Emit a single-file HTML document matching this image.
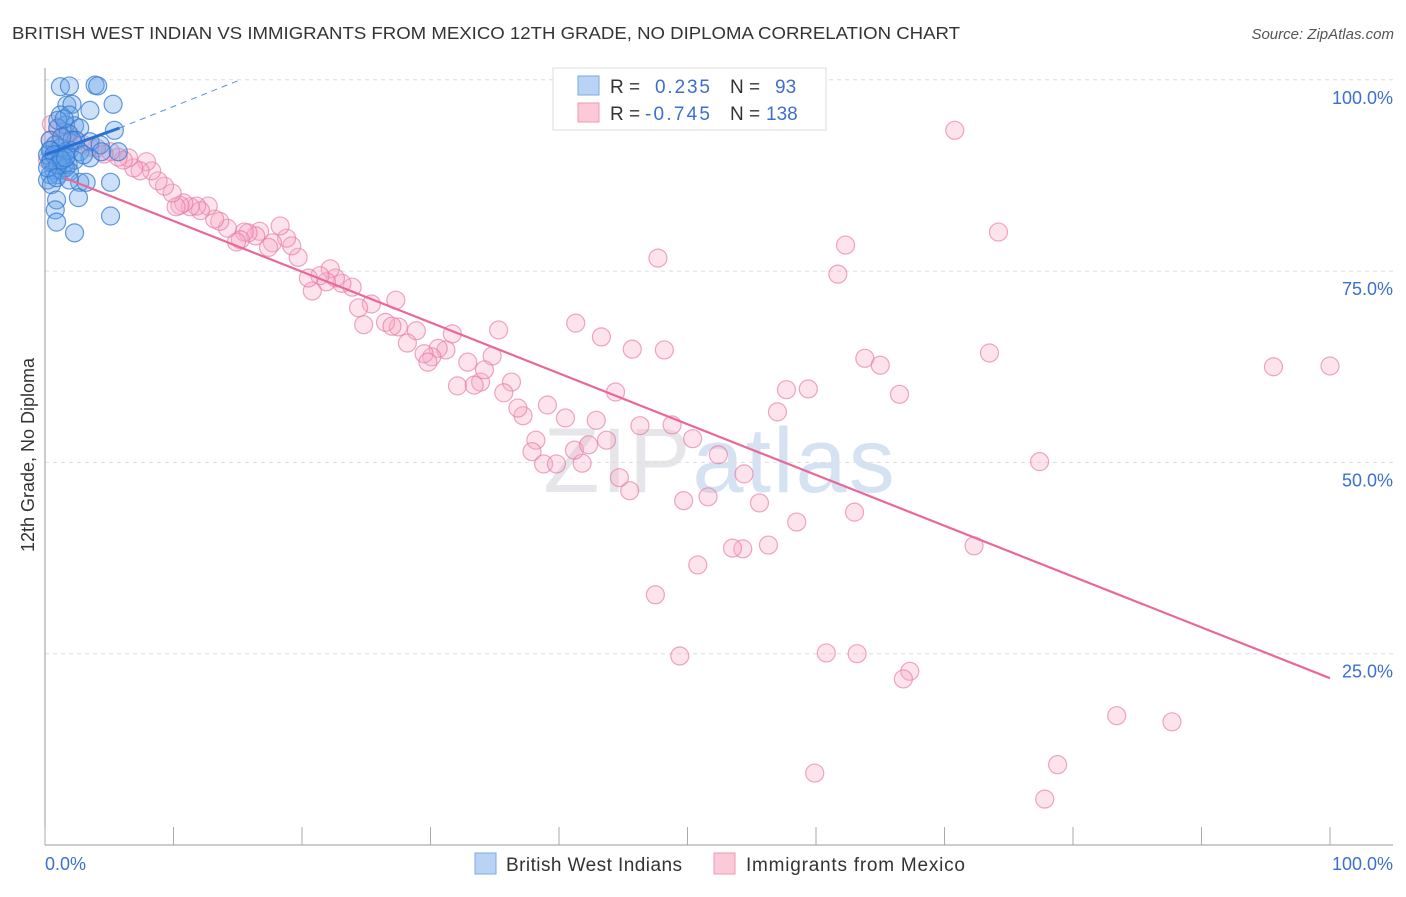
<!DOCTYPE html>
<html><head><meta charset="utf-8"><style>
body{margin:0;background:#fff;font-family:"Liberation Sans",sans-serif;}
svg text{font-family:"Liberation Sans",sans-serif;}
</style></head><body>
<svg id="chart" width="1406" height="892" xmlns="http://www.w3.org/2000/svg">
<text x="12" y="39" font-size="17.5" fill="#333" textLength="948" lengthAdjust="spacingAndGlyphs">BRITISH WEST INDIAN VS IMMIGRANTS FROM MEXICO 12TH GRADE, NO DIPLOMA CORRELATION CHART</text>
<text x="1394" y="39" font-size="15" fill="#555" font-style="italic" text-anchor="end">Source: ZipAtlas.com</text>
<text x="720" y="492" font-size="92" fill="#e6e6ea" text-anchor="middle" font-family="Liberation Serif" letter-spacing="2">ZIP<tspan fill="#d4e2f2" font-family="Liberation Sans">atlas</tspan></text>
<g id="grid"></g><g id="axes"></g><g id="marks"></g>
<text transform="translate(34,455) rotate(-90)" font-size="18" fill="#333" text-anchor="middle">12th Grade, No Diploma</text>
<g>
<rect x="553" y="68" width="273" height="62" fill="#fff" stroke="#ddd"/>
<rect x="578" y="76" width="21" height="19" fill="#b9d3f5" stroke="#7aa8e6"/>
<rect x="578" y="103" width="21" height="19" fill="#fbc9d8" stroke="#ee9ab5"/>
<text x="610" y="93" font-size="19" fill="#333">R =</text>
<text x="655" y="93" font-size="19" fill="#3b6fd0" textLength="55">0.235</text>
<text x="730" y="93" font-size="19" fill="#333">N =</text>
<text x="775" y="93" font-size="19" fill="#3b6fd0">93</text>
<text x="610" y="120" font-size="19" fill="#333">R =</text>
<text x="645" y="120" font-size="19" fill="#3b6fd0" textLength="65">-0.745</text>
<text x="730" y="120" font-size="19" fill="#333">N =</text>
<text x="766" y="120" font-size="19" fill="#3b6fd0">138</text>
</g>
<g>
<rect x="475" y="853" width="21" height="21" fill="#b9d3f5" stroke="#7aa8e6"/>
<text x="506" y="871" font-size="19" fill="#333" textLength="176">British West Indians</text>
<rect x="714" y="853" width="21" height="21" fill="#fbc9d8" stroke="#ee9ab5"/>
<text x="746" y="871" font-size="19" fill="#333" textLength="219">Immigrants from Mexico</text>
</g>
</svg>
<script>
const yTicks=[25,50,75,100];
const yTickLabels=["25.0%","50.0%","75.0%","100.0%"];
const xTicks=[0,10,20,30,40,50,60,70,80,90,100];
const blueX=[1.2,1.9,3.9,4.1,1.7,2.1,3.5,5.3,1.2,1.9,5.4,1.6,2.3,2.7,1.0,1.8,2.4,3.5,4.3,1.9,2.7,3.5,0.5,0.9,1.2,1.5,0.4,0.7,1.0,0.4,0.2,0.5,1.3,1.8,2.3,3.0,5.1,2.7,2.6,0.9,0.8,0.9,2.3,5.1,5.7,4.4,0.4,0.8,1.2,1.6,0.2,0.5,1.2,1.6,1.9,2.1,1.3,1.0,1.5,0.4,0.7,1.0,1.3,1.6,0.2,0.9,1.9,3.2];
const blueY=[99.1,99.2,99.3,99.2,96.7,96.8,96.0,96.8,95.4,95.4,93.4,94.1,94.0,93.7,93.7,93.0,92.1,91.9,91.5,90.8,90.6,89.8,90.8,90.2,89.5,88.9,89.3,88.2,87.6,87.6,86.9,86.3,88.2,88.9,89.5,90.2,86.6,86.6,84.6,84.3,83.0,81.4,80.0,82.2,90.6,90.6,92.1,91.5,91.1,90.6,90.2,89.5,89.8,88.5,88.0,92.1,92.5,94.7,94.9,90.8,90.2,88.9,89.5,89.8,88.5,87.2,86.9,86.6];
const pinkX=[70.8,54.7,74.2,62.3,47.7,61.7,41.3,43.3,35.3,45.7,48.2,63.8,65.0,73.5,95.6,100.0,66.5,57.7,59.4,57.0,77.4,63.0,58.5,72.3,56.3,54.3,53.5,50.8,47.5,49.4,60.8,63.2,67.3,66.8,83.4,87.7,78.8,59.9,77.8,54.4,55.6,51.6,49.7,45.5,44.7,52.4,50.4,48.8,46.3,43.7,42.9,44.4,39.1,40.5,38.2,37.9,38.8,39.8,41.8,41.2,42.3,37.2,36.8,36.3,35.7,34.8,33.9,32.9,32.1,33.4,34.2,31.7,31.2,30.6,30.1,29.5,29.8,28.9,28.2,27.5,26.5,27.0,27.3,25.4,24.8,24.4,23.9,23.1,22.6,22.2,21.9,21.4,20.8,20.5,19.7,19.2,18.8,18.3,17.7,17.4,16.7,16.4,15.8,15.5,15.2,14.9,14.2,13.6,13.2,12.7,12.1,11.8,11.3,10.8,10.5,10.2,9.9,9.3,8.8,8.3,7.9,7.4,6.9,6.5,6.1,5.7,5.1,4.6,4.0,3.5,2.9,2.4,1.9,1.5,1.0,0.5,0.4,0.9,0.2,1.2,1.6];
const pinkY=[93.4,100.0,80.1,78.4,76.7,74.6,68.2,66.4,67.3,64.8,64.7,63.6,62.7,64.3,62.5,62.6,58.9,59.5,59.6,56.6,50.1,43.5,42.2,39.1,39.2,38.7,38.8,36.6,32.7,24.7,25.1,25.0,22.7,21.7,16.9,16.1,10.5,9.4,6.0,48.5,44.7,45.5,45.0,46.3,48.0,51.0,53.1,54.9,54.8,52.9,55.5,59.2,57.5,55.8,52.9,51.4,49.8,49.8,49.9,51.6,52.3,56.1,57.1,60.5,59.1,63.9,60.5,63.1,60.0,60.1,62.1,66.8,64.7,64.9,63.8,64.2,63.1,67.2,65.6,67.7,68.3,67.8,71.2,70.7,68.0,70.2,72.9,73.4,74.1,75.3,73.6,74.4,72.4,74.1,76.8,78.3,79.3,80.9,78.7,78.1,80.2,79.6,80.0,80.1,79.1,78.8,80.6,81.5,81.8,83.5,82.9,83.5,83.4,83.9,83.6,83.4,85.2,86.1,86.8,88.1,89.3,88.1,88.5,89.8,89.5,89.9,90.6,90.3,91.1,91.2,91.6,92.0,92.9,93.2,93.7,94.2,92.1,90.8,89.5,91.9,92.8];
const pinkTrendX=[1.5,100];
const pinkTrendY=[87.2,21.8];
const blueTrendX=[0,5.8];
const blueTrendY=[90.2,93.7];
const blueDashX=[5.8,15.2];
const blueDashY=[93.7,100];

const NS="http://www.w3.org/2000/svg";
const sx=v=>45+v*12.85;
const sy=v=>845-v*7.652;
function mk(tag,attrs,parent){const e=document.createElementNS(NS,tag);for(const k in attrs)e.setAttribute(k,attrs[k]);parent.appendChild(e);return e;}
const grid=document.getElementById('grid'),axes=document.getElementById('axes'),marks=document.getElementById('marks');
yTicks.forEach((t,i)=>{
  const l=mk('line',{x1:45,x2:1393,y1:sy(t),y2:sy(t),stroke:'#ddd','stroke-dasharray':'4,4'},grid);
  
  
  const tx=mk('text',{x:1393,y:sy(t)+24,'font-size':18,fill:'#3b6fd0','text-anchor':'end'},axes);
  tx.textContent=yTickLabels[i];
  
  
});
const ya=mk('line',{x1:45,x2:45,y1:68,y2:845,stroke:'#999'},axes);


const xa=mk('line',{x1:45,x2:1393,y1:845,y2:845,stroke:'#999'},axes);


xTicks.forEach(t=>{
  const l=mk('line',{x1:sx(t),x2:sx(t),y1:827,y2:845,stroke:'#aaa'},axes);
  
  
});
const xl0=mk('text',{x:45,y:870,'font-size':18,fill:'#3b6fd0'},axes);xl0.textContent='0.0%';


const xl1=mk('text',{x:1393,y:870,'font-size':18,fill:'#3b6fd0','text-anchor':'end'},axes);xl1.textContent='100.0%';


pinkX.forEach((x,i)=>{
  const c=mk('circle',{cx:sx(x),cy:sy(pinkY[i]),r:9,fill:'rgba(246,170,196,0.33)',stroke:'rgba(232,120,160,0.65)','stroke-width':1.2},marks);
  
  
});
blueX.forEach((x,i)=>{
  const c=mk('circle',{cx:sx(x),cy:sy(blueY[i]),r:9,fill:'rgba(100,160,230,0.33)',stroke:'rgba(50,120,210,0.75)','stroke-width':1.2},marks);
  
  
});
const pt=mk('line',{x1:sx(pinkTrendX[0]),y1:sy(pinkTrendY[0]),x2:sx(pinkTrendX[1]),y2:sy(pinkTrendY[1]),stroke:'#e8689a','stroke-width':2.2},marks);


const bt=mk('line',{x1:sx(blueTrendX[0]),y1:sy(blueTrendY[0]),x2:sx(blueTrendX[1]),y2:sy(blueTrendY[1]),stroke:'#2a6fd6','stroke-width':3},marks);


const bd=mk('line',{x1:sx(blueDashX[0]),y1:sy(blueDashY[0]),x2:sx(blueDashX[1]),y2:sy(blueDashY[1]),stroke:'#5a8fdc','stroke-width':1,'stroke-dasharray':'6,5'},marks);


</script>
</body></html>
